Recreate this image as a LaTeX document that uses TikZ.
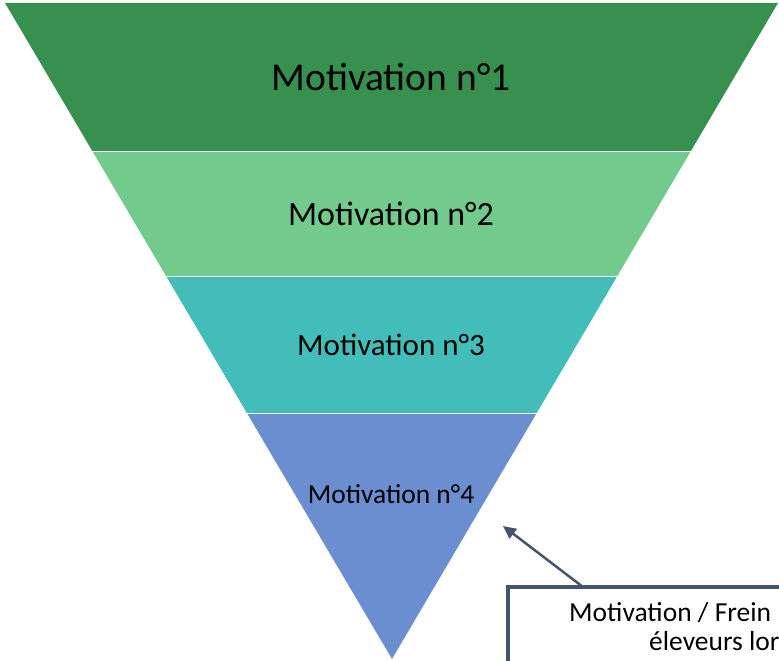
\documentclass[tikz,border=0pt]{standalone}
\usepackage{fontspec}
\setmainfont{Carlito}
\usetikzlibrary{arrows.meta}

\definecolor{bandone}{HTML}{38904F}
\definecolor{bandtwo}{HTML}{72CA8C}
\definecolor{bandthree}{HTML}{42BDBA}
\definecolor{bandfour}{HTML}{6B8ED0}
\definecolor{slate}{HTML}{44546A}

\tikzset{
  level/.style={inner sep=0pt, text=black},
  callbox/.style={draw=slate, line width=4pt, fill=white},
  pointer/.style={draw=slate, line width=2.5pt, -{Triangle[length=13pt,width=12pt]}},
}

\begin{document}
\begin{tikzpicture}[x=1pt,y=-1pt]
\useasboundingbox (0,0) rectangle (779,661);
\clip (0,0) rectangle (779,661);

% funnel bands
\foreach \ya/\yb/\col in {3/150.5/bandone, 152.5/275.5/bandtwo, 277.5/412.5/bandthree, 414.5/659/bandfour} {%
  \begin{scope}
    \clip (0,\ya) rectangle (779,\yb);
    \fill[\col] (5,3) -- (778,3) -- (392,659) -- cycle;
  \end{scope}
}

\node (mot1) at (391,77) [level, font=\fontsize{39.5}{40}\selectfont] {Motivation n°1};
\node (mot2) at (391,214) [level, font=\fontsize{34}{36}\selectfont] {Motivation n°2};
\node (mot3) at (391,345) [level, font=\fontsize{31}{33}\selectfont] {Motivation n°3};
\node (mot4) at (391,494) [level, font=\fontsize{27.5}{29}\selectfont] {Motivation n°4};

% callout
\draw[callbox] (508,587) rectangle (840,720);
\node (line1) at (569,613) [level, anchor=west, font=\fontsize{27.5}{29}\selectfont] {Motivation / Frein};
\node (line2) at (649,641) [level, anchor=west, font=\fontsize{27.5}{29}\selectfont] {éleveurs lor};

\coordinate (foot) at (583,587);
\coordinate (tip) at (503,526);
\draw[pointer] (foot) -- (tip);
\end{tikzpicture}
\end{document}
